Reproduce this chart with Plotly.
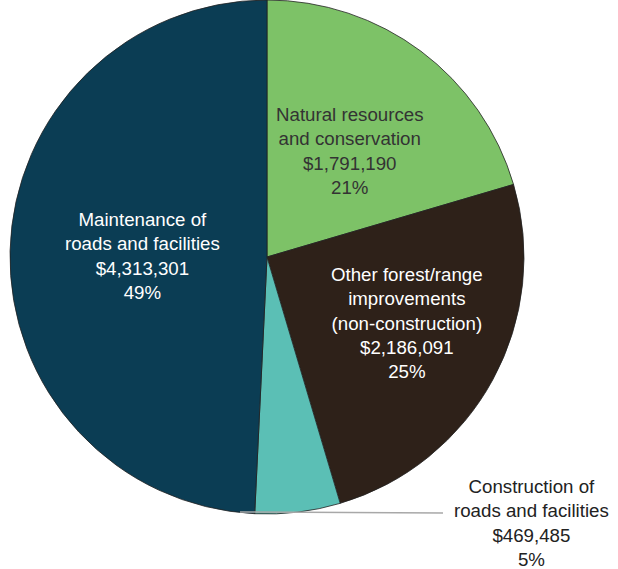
import plotly.graph_objects as go

categories = ["Natural resources<br>and conservation",
              "Other forest/range<br>improvements<br>(non-construction)",
              "Construction of<br>roads and facilities",
              "Maintenance of<br>roads and facilities"]
values = [1791190, 2186091, 469485, 4313301]
amounts = ["$1,791,190", "$2,186,091", "$469,485", "$4,313,301"]
percents = ["21%", "25%", "5%", "49%"]
colors = ["#7DC267", "#2E2119", "#5BBFB5", "#0B3D54"]
text_colors = ["#333333", "#FFFFFF", "#222222", "#FFFFFF"]

W, H = 618, 569
def px(x): return x / W
def py(y): return 1 - y / H

fig = go.Figure(go.Pie(
    values=values,
    labels=categories,
    sort=False,
    direction="clockwise",
    rotation=0,
    marker=dict(colors=colors, line=dict(color="#222222", width=0.8)),
    textinfo="none",
    hoverinfo="label+value",
    showlegend=False,
    domain=dict(x=[px(10), px(524)], y=[py(514), py(0)]),
))

# label block centres (pixel positions)
label_pos = [(349, 151), (407, 323), (531, 523), (142, 256)]
for cat, amt, pct, col, (lx, ly) in zip(categories, amounts, percents, text_colors, label_pos):
    fig.add_annotation(
        x=px(lx), y=py(ly), xref="paper", yref="paper",
        text=f"{cat}<br>{amt}<br>{pct}",
        showarrow=False, xanchor="center", yanchor="middle",
        align="center",
        font=dict(family="Liberation Sans, Arial, sans-serif", size=18.7, color=col),
    )

# leader line for the small slice
fig.add_shape(type="line", xref="paper", yref="paper",
              x0=px(240), y0=py(512), x1=px(443), y1=py(513),
              line=dict(color="#A8A8A8", width=1.5))

fig.update_layout(
    width=W, height=H,
    margin=dict(l=0, r=0, t=0, b=0),
    paper_bgcolor="white", plot_bgcolor="white",
)

fig.write_html("out.html",
               config={"displayModeBar": False},
               post_script="document.body.style.margin='0';document.body.style.overflow='hidden';")
